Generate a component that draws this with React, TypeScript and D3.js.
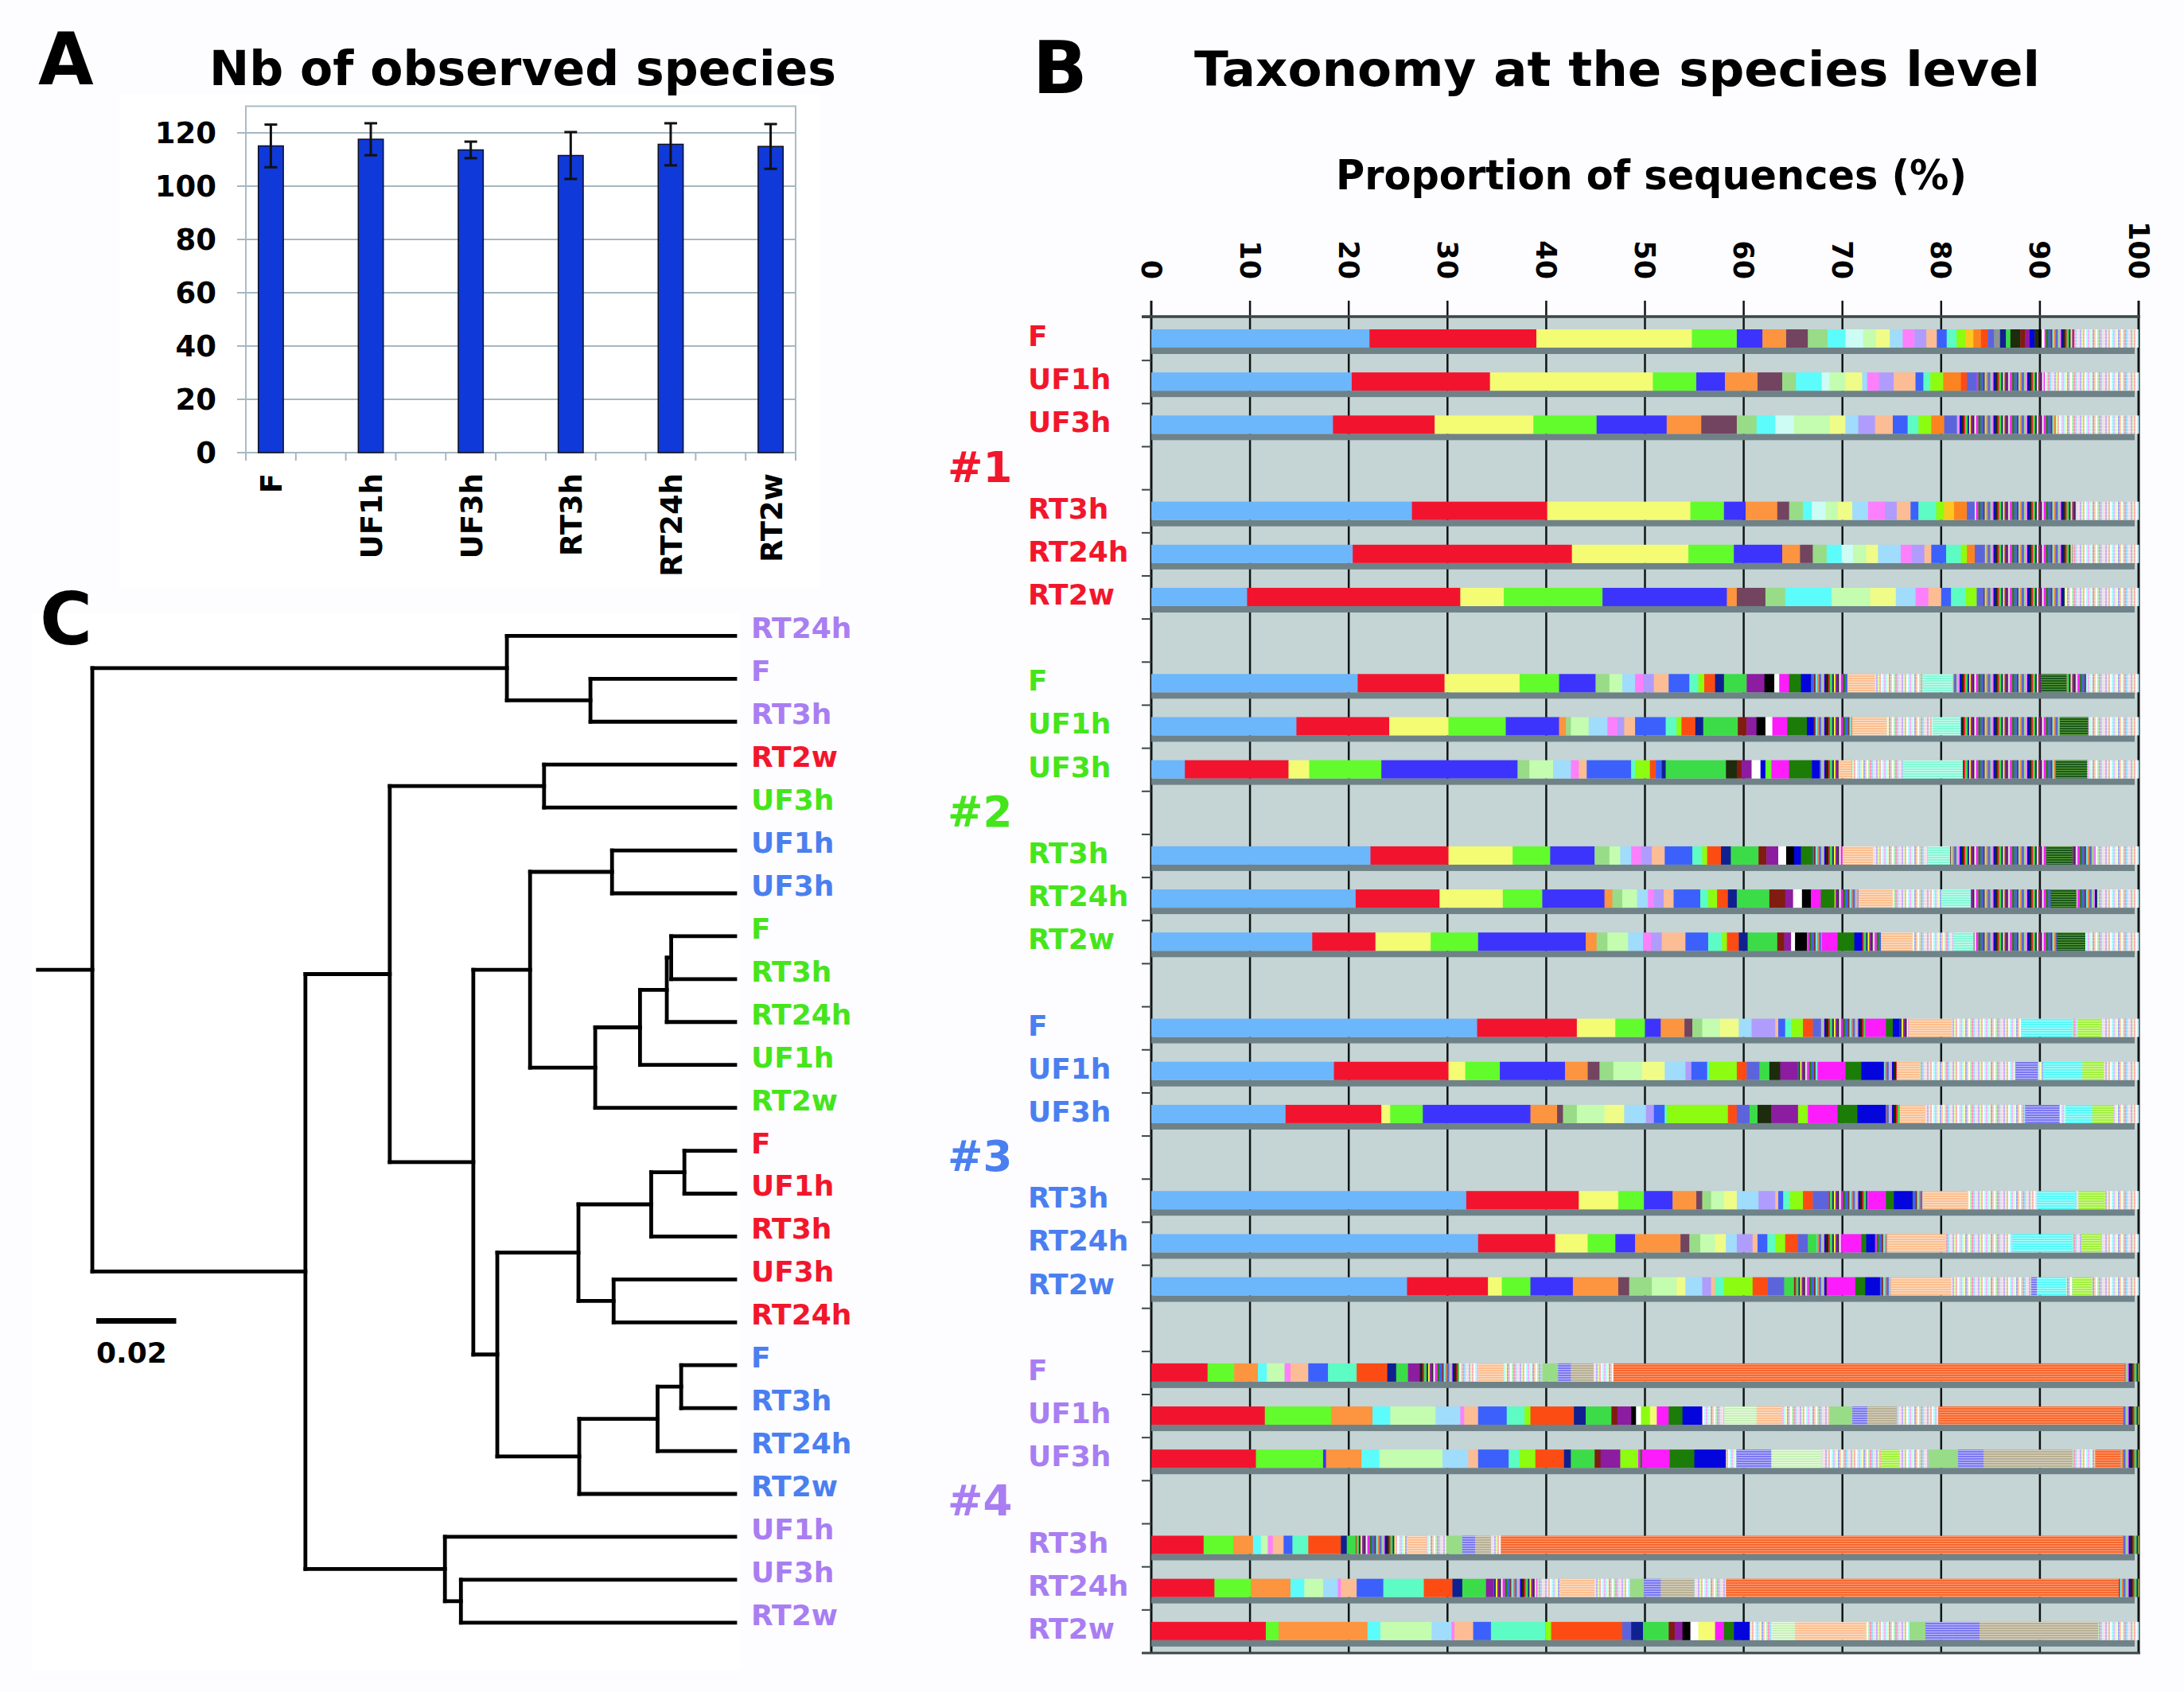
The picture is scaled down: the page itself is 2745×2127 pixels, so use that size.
import React from "react";
import * as d3 from "d3";

const FONT = "'DejaVu Sans', Verdana, sans-serif";

// ---------- Panel A : Nb of observed species ----------
const samples = ["F", "UF1h", "UF3h", "RT3h", "RT24h", "RT2w"];
const observedMean = [115.1, 117.6, 113.6, 111.5, 115.7, 114.9];
const observedErr = [8.0, 6.0, 3.1, 8.8, 7.9, 8.4];
const yTicksA = [0, 20, 40, 60, 80, 100, 120];

// ---------- Panel B : taxonomy at species level ----------
const xTicksB = [0, 10, 20, 30, 40, 50, 60, 70, 80, 90, 100];
const groupNames = ["#1", "#2", "#3", "#4"];
const groupColors = ["#f2162c", "#45e51c", "#4a7ff0", "#a87ef2"];

type Seg = [string, number];

const G1_F: Seg[] = [["lb", 22.1], ["rd", 16.9], ["ye", 15.75], ["gr", 4.55], ["bl", 2.6], ["or", 2.4], ["mv", 2.2], ["lg", 2.0], ["cy", 1.8], ["pc", 1.8], ["pg", 1.3], ["py", 1.4], ["sk", 1.3], ["pk", 1.2], ["lv", 1.2], ["pe", 1.06], ["b2", 1.0], ["aq", 1.0], ["yg", 0.9], ["go", 0.8], ["o2", 0.77], ["orr", 0.68], ["sl", 0.65], ["gy", 0.6], ["nv", 0.6], ["g2", 0.45], ["dk", 1.0], ["mr", 0.5], ["pu", 0.45], ["db", 0.5], ["dk", 0.4], ["bk", 0.3], ["wh", 0.3], ["mix", 3.0], ["rare", 6.5]];
const G1_UF1h: Seg[] = [["lb", 20.3], ["rd", 14.0], ["ye", 16.5], ["gr", 4.4], ["bl", 2.9], ["or", 3.3], ["mv", 2.5], ["lg", 1.4], ["cy", 2.6], ["pc", 0.8], ["pg", 1.6], ["py", 1.7], ["sk", 0.5], ["pk", 1.2], ["lv", 1.5], ["pe", 2.2], ["b2", 0.8], ["aq", 0.7], ["yg", 1.3], ["o2", 1.8], ["orr", 0.6], ["sl", 1.0], ["mix", 6.9], ["rare", 9.5]];
const G1_UF3h: Seg[] = [["lb", 18.4], ["rd", 10.3], ["ye", 10.0], ["gr", 6.4], ["bl", 7.1], ["or", 3.5], ["mv", 3.6], ["lg", 2.0], ["cy", 1.9], ["pc", 1.9], ["pg", 3.6], ["py", 1.6], ["sk", 1.3], ["lv", 1.7], ["pe", 1.8], ["b2", 1.5], ["aq", 1.1], ["yg", 1.3], ["o2", 1.3], ["sl", 1.3], ["mix", 10.0], ["rare", 8.4]];
const G1_RT3h: Seg[] = [["lb", 26.4], ["rd", 13.7], ["ye", 14.5], ["gr", 3.4], ["bl", 2.2], ["or", 3.2], ["mv", 1.2], ["lg", 1.4], ["cy", 0.9], ["pc", 1.4], ["pg", 1.2], ["py", 1.5], ["sk", 1.6], ["pk", 1.7], ["lv", 1.2], ["pe", 1.4], ["b2", 0.8], ["aq", 1.8], ["yg", 0.8], ["go", 1.0], ["o2", 1.3], ["sl", 0.8], ["mix", 10.3], ["rare", 6.3]];
const G1_RT24h: Seg[] = [["lb", 20.4], ["rd", 22.2], ["ye", 11.8], ["gr", 4.6], ["bl", 4.9], ["or", 1.8], ["mv", 1.3], ["lg", 1.4], ["cy", 1.5], ["pc", 1.2], ["pg", 1.3], ["py", 1.2], ["sk", 2.3], ["pk", 1.1], ["lv", 1.3], ["pe", 0.7], ["b2", 1.5], ["aq", 1.5], ["yg", 0.6], ["o2", 0.8], ["sl", 1.0], ["mix", 8.9], ["rare", 6.7]];
const G1_RT2w: Seg[] = [["lb", 9.7], ["rd", 21.6], ["ye", 4.4], ["gr", 10.0], ["bl", 12.6], ["or", 1.0], ["mv", 2.9], ["lg", 2.0], ["cy", 4.7], ["pg", 3.9], ["py", 2.6], ["sk", 2.0], ["pk", 1.3], ["pe", 1.3], ["b2", 1.0], ["aq", 1.5], ["yg", 1.1], ["sl", 0.7], ["mix", 8.2], ["rare", 7.5]];

const G2_F: Seg[] = [["lb", 20.9], ["rd", 8.8], ["ye", 7.6], ["gr", 4.0], ["bl", 3.7], ["lg", 1.4], ["pg", 1.3], ["sk", 1.3], ["pk", 0.8], ["lv", 1.1], ["pe", 1.5], ["b2", 2.1], ["aq", 0.9], ["yg", 0.6], ["orr", 1.1], ["nv", 0.9], ["g2", 2.3], ["pu", 1.8], ["bk", 1.0], ["wh", 0.5], ["mg", 1.0], ["dg", 1.2], ["db", 1.0], ["mix", 3.7], ["ph", 2.8], ["rare", 4.8], ["ah", 3.1], ["mix", 8.9], ["dgh", 2.6], ["mix", 2.0], ["rare", 5.3]];
const G2_UF1h: Seg[] = [["lb", 14.7], ["rd", 9.4], ["ye", 6.0], ["gr", 5.8], ["bl", 5.4], ["or", 0.7], ["lg", 0.5], ["pg", 1.8], ["sk", 1.9], ["pk", 1.0], ["lv", 0.7], ["pe", 1.1], ["b2", 3.1], ["aq", 1.1], ["yg", 0.5], ["orr", 1.4], ["nv", 0.8], ["g2", 3.5], ["mr", 0.9], ["pu", 1.0], ["bk", 0.9], ["wh", 0.7], ["mg", 1.5], ["dg", 2.0], ["db", 0.7], ["mix", 3.9], ["ph", 3.5], ["rare", 4.6], ["ah", 2.9], ["mix", 10.0], ["dgh", 2.9], ["rare", 5.1]];
const G2_UF3h: Seg[] = [["lb", 3.4], ["rd", 10.5], ["ye", 2.1], ["gr", 7.3], ["bl", 13.8], ["lg", 1.2], ["pg", 2.4], ["sk", 1.8], ["pk", 0.8], ["pe", 0.8], ["b2", 4.5], ["aq", 0.4], ["yg", 1.5], ["orr", 0.6], ["b2", 0.6], ["nv", 0.4], ["g2", 6.1], ["dk", 1.1], ["mr", 0.5], ["pu", 1.0], ["wh", 0.9], ["db", 0.5], ["gr", 0.6], ["mg", 1.8], ["dg", 2.3], ["db", 0.8], ["mix", 1.9], ["ph", 1.3], ["rare", 5.2], ["ah", 6.1], ["mix", 9.4], ["dgh", 3.2], ["rare", 5.2]];
const G2_RT3h: Seg[] = [["lb", 22.2], ["rd", 7.9], ["ye", 6.5], ["gr", 3.8], ["bl", 4.5], ["lg", 1.5], ["pg", 1.1], ["sk", 1.1], ["pk", 1.0], ["lv", 1.1], ["pe", 1.3], ["b2", 2.8], ["aq", 1.0], ["yg", 0.5], ["orr", 1.4], ["nv", 1.0], ["g2", 2.8], ["mr", 0.8], ["pu", 1.2], ["wh", 0.8], ["bk", 0.8], ["db", 0.7], ["dg", 1.2], ["mix", 3.0], ["ph", 3.1], ["rare", 5.5], ["ah", 2.3], ["mix", 9.8], ["dgh", 2.6], ["mix", 2.3], ["rare", 4.4]];
const G2_RT24h: Seg[] = [["lb", 20.7], ["rd", 8.5], ["ye", 6.4], ["gr", 4.0], ["bl", 6.3], ["or", 0.8], ["lg", 1.0], ["pg", 1.5], ["sk", 1.1], ["pk", 0.6], ["lv", 1.0], ["pe", 1.0], ["b2", 2.7], ["aq", 0.8], ["yg", 0.9], ["orr", 1.1], ["nv", 0.9], ["g2", 3.3], ["mr", 1.6], ["pu", 0.8], ["wh", 0.9], ["bk", 0.9], ["mg", 1.0], ["dg", 1.4], ["mix", 2.4], ["ph", 3.5], ["rare", 4.9], ["ah", 3.0], ["mix", 8.1], ["dgh", 2.6], ["mix", 2.1], ["rare", 4.2]];
const G2_RT2w: Seg[] = [["lb", 16.3], ["rd", 6.4], ["ye", 5.6], ["gr", 4.8], ["bl", 10.9], ["or", 1.1], ["lg", 1.1], ["pg", 2.1], ["sk", 1.5], ["pk", 0.8], ["lv", 1.1], ["pe", 2.4], ["b2", 2.3], ["aq", 1.4], ["yg", 0.5], ["orr", 1.2], ["nv", 0.9], ["g2", 3.0], ["mr", 0.7], ["pu", 0.7], ["wh", 0.4], ["bk", 1.2], ["mix", 1.5], ["mg", 1.6], ["dg", 1.7], ["db", 0.8], ["mix", 1.9], ["ph", 3.2], ["rare", 4.1], ["ah", 2.1], ["mix", 8.4], ["dgh", 2.9], ["rare", 5.4]];

const G3_F: Seg[] = [["lb", 33.0], ["rd", 10.1], ["ye", 3.9], ["gr", 3.0], ["bl", 1.6], ["or", 2.4], ["mv", 0.8], ["lg", 1.0], ["pg", 1.8], ["py", 1.9], ["sk", 1.3], ["lv", 2.4], ["pe", 0.3], ["b2", 0.7], ["aq", 0.6], ["yg", 1.2], ["orr", 1.0], ["sl", 0.7], ["mix", 4.6], ["mg", 2.1], ["dg", 0.7], ["db", 0.7], ["mix", 0.9], ["ph", 4.4], ["rare", 7.0], ["cyh", 5.2], ["rare", 0.5], ["ygh", 2.4], ["rare", 3.8]];
const G3_UF1h: Seg[] = [["lb", 18.5], ["rd", 11.6], ["ye", 1.7], ["gr", 3.5], ["bl", 6.6], ["or", 2.3], ["mv", 1.2], ["lg", 1.4], ["pg", 2.9], ["py", 2.3], ["sk", 2.1], ["lv", 0.6], ["b2", 1.6], ["aq", 0.2], ["yg", 2.8], ["orr", 1.0], ["sl", 1.3], ["g2", 1.0], ["dk", 1.1], ["pu", 1.8], ["mix", 2.0], ["mg", 2.8], ["dg", 1.6], ["db", 2.3], ["mix", 1.3], ["ph", 2.3], ["rare", 9.7], ["lvh", 2.3], ["rare", 0.5], ["cyh", 4.0], ["ygh", 2.2], ["rare", 3.5]];
const G3_UF3h: Seg[] = [["lb", 13.6], ["rd", 9.7], ["ye", 0.9], ["gr", 3.3], ["bl", 10.9], ["or", 2.7], ["mv", 0.6], ["lg", 1.4], ["pg", 2.8], ["py", 2.0], ["sk", 2.2], ["lv", 0.8], ["b2", 1.1], ["aq", 0.2], ["yg", 6.2], ["orr", 0.9], ["sl", 1.3], ["g2", 0.8], ["dk", 1.4], ["pu", 2.7], ["yg", 1.0], ["mg", 3.0], ["dg", 2.0], ["db", 2.9], ["mix", 1.4], ["ph", 2.6], ["rare", 10.1], ["lvh", 3.5], ["rare", 0.6], ["cyh", 2.7], ["ygh", 2.2], ["rare", 2.5]];
const G3_RT3h: Seg[] = [["lb", 31.9], ["rd", 11.4], ["ye", 4.0], ["gr", 2.6], ["bl", 2.9], ["or", 2.4], ["mv", 0.6], ["lg", 0.9], ["pg", 1.3], ["py", 1.3], ["sk", 2.2], ["lv", 1.7], ["pe", 0.3], ["b2", 0.5], ["aq", 0.7], ["yg", 1.3], ["orr", 1.0], ["sl", 1.6], ["mix", 4.0], ["mg", 1.8], ["dg", 0.8], ["db", 1.9], ["mix", 1.0], ["ph", 4.5], ["rare", 7.2], ["cyh", 3.8], ["rare", 0.3], ["ygh", 2.7], ["rare", 3.4]];
const G3_RT24h: Seg[] = [["lb", 33.1], ["rd", 7.8], ["ye", 3.3], ["gr", 2.8], ["bl", 2.0], ["or", 4.6], ["mv", 0.9], ["lg", 1.1], ["pg", 1.5], ["py", 1.1], ["sk", 1.1], ["lv", 1.6], ["pe", 0.5], ["b2", 1.0], ["aq", 0.8], ["yg", 1.0], ["orr", 1.3], ["sl", 1.0], ["g2", 0.9], ["mix", 2.6], ["mg", 1.9], ["dg", 0.5], ["db", 0.9], ["mix", 1.2], ["ph", 5.9], ["rare", 6.8], ["cyh", 6.1], ["rare", 0.9], ["ygh", 2.0], ["rare", 3.8]];
const G3_RT2w: Seg[] = [["lb", 25.9], ["rd", 8.2], ["ye", 1.4], ["gr", 2.9], ["bl", 4.3], ["or", 4.6], ["mv", 1.1], ["lg", 2.3], ["pg", 2.5], ["py", 0.9], ["sk", 1.7], ["lv", 0.9], ["pe", 0.4], ["aq", 0.9], ["yg", 2.9], ["orr", 1.5], ["sl", 1.7], ["g2", 1.0], ["mix", 3.3], ["mg", 2.9], ["dg", 1.0], ["db", 1.5], ["mix", 1.1], ["ph", 6.1], ["rare", 8.1], ["lvh", 0.6], ["cyh", 3.0], ["rare", 0.6], ["ygh", 2.0], ["rare", 4.7]];

const G4_F: Seg[] = [["rd", 5.7], ["gr", 2.7], ["or", 2.4], ["cy", 0.9], ["pg", 1.8], ["pk", 0.6], ["pe", 1.8], ["b2", 2.0], ["aq", 2.9], ["orr", 3.1], ["nv", 0.9], ["g2", 1.2], ["pu", 1.2], ["mix", 4.0], ["rare", 1.9], ["ph", 2.6], ["rare", 3.9], ["lg", 1.6], ["lvh", 1.3], ["tn", 2.3], ["rare", 2.0], ["o4", 51.8], ["mix", 1.4]];
const G4_UF1h: Seg[] = [["rd", 11.5], ["gr", 6.7], ["or", 4.2], ["cy", 1.8], ["pg", 4.6], ["sk", 2.5], ["pk", 0.4], ["pe", 1.4], ["b2", 2.9], ["aq", 1.8], ["yg", 0.6], ["orr", 4.4], ["nv", 1.2], ["g2", 2.6], ["mr", 0.6], ["pu", 1.4], ["bk", 0.5], ["wh", 0.5], ["yg", 0.9], ["ye", 0.7], ["mg", 1.2], ["dg", 1.4], ["db", 2.0], ["rare", 2.2], ["pgh", 3.3], ["ph", 2.6], ["rare", 4.8], ["lg", 2.3], ["lvh", 1.5], ["tn", 3.0], ["rare", 4.2], ["o4", 18.7], ["mix", 1.6]];
const G4_UF3h: Seg[] = [["rd", 10.6], ["gr", 6.8], ["bl", 0.3], ["or", 3.6], ["cy", 1.8], ["pg", 6.4], ["sk", 2.6], ["pe", 1.0], ["b2", 3.1], ["aq", 1.1], ["yg", 1.6], ["orr", 2.9], ["nv", 0.7], ["g2", 2.4], ["mr", 0.6], ["pu", 2.0], ["yg", 1.8], ["mix", 0.4], ["mg", 2.8], ["dg", 2.5], ["db", 3.2], ["rare", 1.1], ["lvh", 3.5], ["pgh", 5.1], ["rare", 6.0], ["ygh", 1.9], ["rare", 2.9], ["lg", 3.0], ["lvh", 2.6], ["tn", 9.0], ["rare", 2.3], ["o4", 2.6], ["mix", 1.8]];
const G4_RT3h: Seg[] = [["rd", 5.3], ["gr", 3.0], ["or", 2.0], ["cy", 0.8], ["pg", 0.7], ["pk", 0.5], ["pe", 1.1], ["b2", 0.9], ["aq", 1.6], ["orr", 3.3], ["nv", 0.6], ["g2", 0.9], ["mix", 4.0], ["rare", 1.3], ["ph", 1.9], ["rare", 2.0], ["lg", 1.6], ["lvh", 1.3], ["tn", 1.6], ["rare", 1.0], ["o4", 63.0], ["mix", 1.6]];
const G4_RT24h: Seg[] = [["rd", 6.4], ["gr", 3.7], ["or", 4.0], ["cy", 1.4], ["pg", 1.9], ["sk", 1.5], ["pk", 0.3], ["pe", 1.6], ["b2", 2.7], ["aq", 4.1], ["orr", 2.9], ["nv", 1.0], ["g2", 2.4], ["pu", 0.8], ["mix", 4.4], ["rare", 2.4], ["ph", 3.4], ["rare", 3.6], ["lg", 1.4], ["lvh", 1.7], ["tn", 3.4], ["rare", 3.2], ["o4", 39.8], ["mix", 2.0]];
const G4_RT2w: Seg[] = [["rd", 11.6], ["gr", 1.3], ["or", 9.0], ["cy", 1.3], ["pg", 5.2], ["sk", 2.0], ["pk", 0.3], ["pe", 1.9], ["b2", 1.8], ["aq", 5.5], ["yg", 0.6], ["orr", 7.2], ["sl", 0.9], ["nv", 1.2], ["g2", 2.6], ["mr", 0.6], ["pu", 0.8], ["bk", 0.8], ["wh", 0.8], ["ye", 1.7], ["mg", 0.9], ["dg", 1.0], ["db", 1.6], ["rare", 2.3], ["pgh", 2.3], ["ph", 7.1], ["rare", 4.5], ["lg", 1.6], ["lvh", 2.7], ["lvh", 2.8], ["tn", 12.0], ["rare", 4.1]];

const groupBars: Seg[][][] = [
  [G1_F, G1_UF1h, G1_UF3h, G1_RT3h, G1_RT24h, G1_RT2w],
  [G2_F, G2_UF1h, G2_UF3h, G2_RT3h, G2_RT24h, G2_RT2w],
  [G3_F, G3_UF1h, G3_UF3h, G3_RT3h, G3_RT24h, G3_RT2w],
  [G4_F, G4_UF1h, G4_UF3h, G4_RT3h, G4_RT24h, G4_RT2w],
];

// ---------- Panel C : dendrogram (linkage, leaves in drawing order) ----------
const treeLeaves: [string, number][] = [
  ["RT24h", 3], ["F", 3], ["RT3h", 3], ["RT2w", 0], ["UF3h", 1], ["UF1h", 2], ["UF3h", 2],
  ["F", 1], ["RT3h", 1], ["RT24h", 1], ["UF1h", 1], ["RT2w", 1],
  ["F", 0], ["UF1h", 0], ["RT3h", 0], ["UF3h", 0], ["RT24h", 0],
  ["F", 2], ["RT3h", 2], ["RT24h", 2], ["RT2w", 2], ["UF1h", 3], ["UF3h", 3], ["RT2w", 3],
];
// [child a, child b, height]; ids >= 24 are earlier merges
const treeMerges: [number, number, number][] = [
  [1, 2, 0.0362], [0, 24, 0.0571], [3, 4, 0.0478], [5, 6, 0.0308], [7, 8, 0.016],
  [28, 9, 0.0171], [29, 10, 0.0238], [30, 11, 0.035], [27, 31, 0.0513], [12, 13, 0.0127],
  [33, 14, 0.021], [15, 16, 0.0304], [34, 35, 0.0392], [17, 18, 0.0135], [37, 19, 0.0194],
  [38, 20, 0.039], [36, 39, 0.0595], [32, 40, 0.0655], [26, 41, 0.0864], [22, 23, 0.0686],
  [21, 43, 0.0726], [42, 44, 0.1075], [25, 45, 0.1608],
];
const rootStem = 0.0136;
const scaleBarValue = 0.02;

// ---------- styles ----------
const palette: Record<string, string> = {
  lb: "#6cb6fc", rd: "#f2142e", ye: "#f4fc74", gr: "#62fc2c", bl: "#3c34fc", or: "#fc9440",
  mv: "#724460", lg: "#98dc88", cy: "#5cfcfc", pc: "#ccfcf4", pg: "#c4fcb0", py: "#f0fc88",
  sk: "#a0dcfc", pk: "#fc80fc", lv: "#b09cfc", pe: "#fcbc94", b2: "#3c60fc", aq: "#5cfcc4",
  yg: "#8cfc10", go: "#fcc820", o2: "#fc8420", orr: "#fc4c14", sl: "#5c64dc", gy: "#8c9494",
  nv: "#102090", g2: "#3cdc48", dk: "#1c2c0c", mr: "#801c10", pu: "#8c1ca0", bk: "#000000",
  wh: "#ffffff", mg: "#fc1cfc", dg: "#1c7c08", db: "#0404dc",
};
const hatches: Record<string, [string, string]> = {
  o4: ["#f8682e", "#fc9c74"], ph: ["#fcbf90", "#fde0c8"], ah: ["#86f8d6", "#cafcf0"],
  dgh: ["#1a5a1a", "#5c9c3c"], cyh: ["#58f8f8", "#b4fcfc"], ygh: ["#a2f040", "#d4fc98"],
  lvh: ["#7c78f0", "#bcbcfc"], tn: ["#b8b094", "#d8d2c2"], pgh: ["#c8f0b8", "#eafce2"],
};
const mixStripes: [string, number][] = [
  ["#1c2c0c", 3], ["#f0142c", 2], ["#3cdc48", 3], ["#102090", 2], ["#fcfc20", 2], ["#8c1ca0", 3],
  ["#000000", 1.5], ["#ffffff", 2], ["#fc1cfc", 3], ["#1c7c08", 3], ["#3c60fc", 3], ["#801c10", 2],
  ["#5cfcfc", 2], ["#fc8420", 2], ["#5c64dc", 3], ["#98dc88", 2], ["#fc80fc", 2], ["#0404dc", 2],
];
const rareStripes: string[] = [
  "#f4b4fc", "#b8fcec", "#fcfcb0", "#a0a8fc", "#fcc8a4", "#ffffff", "#b0f0b0", "#f898c0",
  "#98dcfc", "#e4e4e4", "#fcd8ec", "#c0b0fc", "#d8fca8", "#fcb0b0", "#ffffff", "#a8fcfc",
];

const fillOf = (k: string) =>
  palette[k] ? palette[k] : `url(#p-${k})`;

export default function App() {
  const W = 2745, H = 2127;

  // ---- Panel A scales
  const xA = d3.scaleBand<number>().domain(d3.range(11)).range([309, 1000]);
  const yA = d3.scaleLinear().domain([0, 130]).range([569, 133.5]);
  const bwA = xA.bandwidth();

  // ---- Panel B scales
  const xB = d3.scaleLinear().domain([0, 100]).range([1447, 2688]);
  const slotB = d3.scaleBand<number>().domain(d3.range(31)).range([399, 2078]);
  const stepB = slotB.step();
  const slotOf = (g: number, r: number) => 8 * g + (r < 3 ? r : r + 1);

  // ---- Panel C tree
  type TNode = { name?: string; group?: number; h: number; children?: TNode[] };
  const nodes: TNode[] = treeLeaves.map(([name, group]) => ({ name, group, h: 0 }));
  treeMerges.forEach(([a, b, h]) => nodes.push({ h, children: [nodes[a], nodes[b]] }));
  const root: any = d3.hierarchy(nodes[nodes.length - 1]);
  const leaves = root.leaves();
  const yLeaf = d3.scalePoint<number>().domain(d3.range(leaves.length)).range([799.4, 2039.8]);
  leaves.forEach((l: any, i: number) => (l.y = yLeaf(i)));
  root.eachAfter((n: any) => {
    if (n.children) n.y = d3.mean(n.children, (c: any) => c.y);
  });
  const xC = d3.scaleLinear().domain([0, root.data.h + rootStem]).range([924, 47.7]);
  const treeLines: { x1: number; y1: number; x2: number; y2: number }[] = [];
  root.each((n: any) => {
    if (!n.children) return;
    const xn = xC(n.data.h);
    const ys = n.children.map((c: any) => c.y);
    treeLines.push({ x1: xn, y1: d3.min(ys) as number, x2: xn, y2: d3.max(ys) as number });
    n.children.forEach((c: any) => treeLines.push({ x1: xn, y1: c.y, x2: xC(c.data.h), y2: c.y }));
  });
  treeLines.push({ x1: xC(root.data.h + rootStem), y1: root.y, x2: xC(root.data.h), y2: root.y });

  const mixW = d3.sum(mixStripes, (d) => d[1]);
  const mixX = d3.cumsum(mixStripes.map((d) => d[1]));

  return (
    <svg
      width={W}
      height={H}
      style={{ position: "absolute", left: 0, top: 0, display: "block", background: "#fdfcfe" }}
      fontFamily={FONT}
      fontWeight="bold"
    >
      <defs>
        <pattern id="p-mix" patternUnits="userSpaceOnUse" width={mixW} height={10}>
          {mixStripes.map(([c, w], i) => (
            <rect key={i} x={mixX[i] - w} y={0} width={w} height={10} fill={c} />
          ))}
        </pattern>
        <pattern id="p-rare" patternUnits="userSpaceOnUse" width={rareStripes.length * 2} height={4}>
          {rareStripes.map((c, i) => (
            <rect key={i} x={i * 2} y={0} width={2} height={4} fill={c} />
          ))}
          <rect x={0} y={2} width={rareStripes.length * 2} height={1} fill="#ffffff" opacity={0.3} />
        </pattern>
        {Object.entries(hatches).map(([k, [base, light]]) => (
          <pattern key={k} id={`p-${k}`} patternUnits="userSpaceOnUse" width={4} height={3}>
            <rect x={0} y={0} width={4} height={3} fill={base} />
            <rect x={0} y={2} width={4} height={1} fill={light} />
          </pattern>
        ))}
      </defs>

      {/* white panel backgrounds */}
      <rect x={150} y={118} width={880} height={622} fill="#ffffff" />
      <rect x={40} y={770} width={890} height={1330} fill="#ffffff" />

      {/* ================= Panel A ================= */}
      <text x={48} y={106} fontSize={90}>A</text>
      <text x={263} y={107} fontSize={60}>Nb of observed species</text>
      <rect x={309} y={133.5} width={691} height={569 - 133.5} fill="#ffffff" stroke="#a9bcc6" strokeWidth={2} />
      {yTicksA.map((t) => (
        <g key={t}>
          <line x1={309} x2={1000} y1={yA(t)} y2={yA(t)} stroke="#a6b7c0" strokeWidth={2} />
          <line x1={298} x2={309} y1={yA(t)} y2={yA(t)} stroke="#a6b7c0" strokeWidth={2} />
          <text x={272} y={yA(t) + 13} fontSize={37} textAnchor="end">{t}</text>
        </g>
      ))}
      {d3.range(12).map((k) => (
        <line key={k} x1={309 + k * xA.step()} x2={309 + k * xA.step()} y1={569} y2={579} stroke="#a6b7c0" strokeWidth={2} />
      ))}
      {samples.map((s, i) => {
        const cx = (xA(2 * i) as number) + bwA / 2;
        const bw = bwA * 0.5;
        const m = observedMean[i], e = observedErr[i];
        return (
          <g key={s}>
            <rect x={cx - bw / 2} y={yA(m)} width={bw} height={yA(0) - yA(m)} fill="#1039d9" stroke="#111" strokeWidth={1.5} />
            <line x1={cx} x2={cx} y1={yA(m + e)} y2={yA(m - e)} stroke="#111" strokeWidth={3} />
            <line x1={cx - 8} x2={cx + 8} y1={yA(m + e)} y2={yA(m + e)} stroke="#111" strokeWidth={3} />
            <line x1={cx - 8} x2={cx + 8} y1={yA(m - e)} y2={yA(m - e)} stroke="#111" strokeWidth={3} />
            <text transform={`translate(${cx + 14},595) rotate(-90)`} textAnchor="end" fontSize={37}>{s}</text>
          </g>
        );
      })}

      {/* ================= Panel B ================= */}
      <text x={1298} y={117} fontSize={90}>B</text>
      <text x={1501} y={108} fontSize={60} textLength={1063} lengthAdjust="spacingAndGlyphs">Taxonomy at the species level</text>
      <text x={1679} y={238} fontSize={51} textLength={793} lengthAdjust="spacingAndGlyphs">Proportion of sequences (%)</text>

      <rect x={xB(0)} y={399} width={xB(100) - xB(0)} height={2078 - 399} fill="#c5d4d4" />
      {xTicksB.map((t) => (
        <g key={t}>
          <line x1={xB(t)} x2={xB(t)} y1={378} y2={2078} stroke="#101414" strokeWidth={t === 0 || t === 100 ? 3 : 2.5} />
          <text transform={`translate(${xB(t) - 12.5},351) rotate(90)`} textAnchor="end" fontSize={35}>{t}</text>
        </g>
      ))}
      <line x1={1435} x2={2690} y1={398} y2={398} stroke="#3c4646" strokeWidth={3.5} />
      <line x1={1435} x2={2690} y1={2078} y2={2078} stroke="#3c4646" strokeWidth={3} />
      {d3.range(32).map((k) => (
        <line key={k} x1={1435} x2={1447} y1={399 + k * stepB} y2={399 + k * stepB} stroke="#3c4646" strokeWidth={2} />
      ))}

      {groupBars.map((bars, g) => (
        <g key={g}>
          <text
            x={1191}
            y={(slotB(8 * g) as number) + 3.5 * stepB + 17}
            fontSize={53}
            fill={groupColors[g]}
          >
            {groupNames[g]}
          </text>
          {bars.map((segs, r) => {
            const top = slotB(slotOf(g, r)) as number;
            const ends = d3.cumsum(segs.map((s) => s[1]));
            return (
              <g key={r}>
                <text x={1292} y={top + 36} fontSize={36} fill={groupColors[g]}>{samples[r]}</text>
                <rect x={xB(0)} y={top + 38} width={xB(99.6) - xB(0)} height={8} fill="#6e8288" />
                {segs.map(([k, v], i) => {
                  const x0 = xB(ends[i] - v);
                  const x1 = xB(Math.min(ends[i], 100));
                  return (
                    <rect key={i} x={x0} y={top + 15} width={Math.max(0, x1 - x0) + 0.4} height={23} fill={fillOf(k)} />
                  );
                })}
              </g>
            );
          })}
        </g>
      ))}

      {/* ================= Panel C ================= */}
      <text x={50} y={810} fontSize={90}>C</text>
      {treeLines.map((l, i) => (
        <line key={i} x1={l.x1} y1={l.y1} x2={l.x2} y2={l.y2} stroke="#000" strokeWidth={4.8} strokeLinecap="square" />
      ))}
      {leaves.map((l: any, i: number) => (
        <text key={i} x={944} y={l.y + 3} fontSize={36} fill={groupColors[l.data.group]}>{l.data.name}</text>
      ))}
      <rect x={121} y={1657} width={xC(0) - xC(scaleBarValue)} height={7} fill="#000" />
      <text x={121} y={1713} fontSize={36}>{scaleBarValue.toFixed(2)}</text>
    </svg>
  );
}
